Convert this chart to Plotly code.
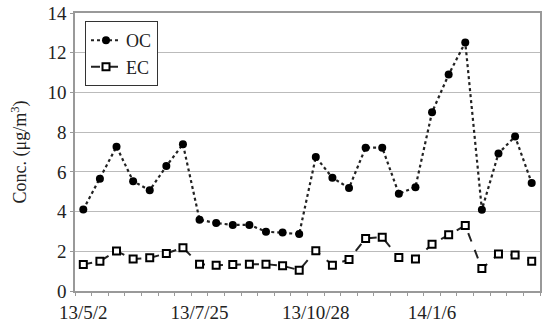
import plotly.graph_objects as go

idx = list(range(28))
oc = [4.1, 5.65, 7.27, 5.53, 5.07, 6.29, 7.39, 3.59, 3.42, 3.33, 3.33, 2.99, 2.94, 2.87,
      6.75, 5.70, 5.19, 7.22, 7.22, 4.90, 5.23, 9.0, 10.9, 12.52, 4.09, 6.93, 7.78, 5.44]
ec = [1.34, 1.50, 2.01, 1.61, 1.67, 1.89, 2.18, 1.35, 1.30, 1.34, 1.35, 1.35, 1.27, 1.05,
      2.03, 1.30, 1.59, 2.65, 2.71, 1.69, 1.61, 2.35, 2.83, 3.30, 1.13, 1.86, 1.81, 1.50]
tick_pos = [0, 7, 14, 21]
tick_labels = ["13/5/2", "13/7/25", "13/10/28", "14/1/6"]
boundaries = [i - 0.5 for i in range(len(idx) + 1)]

FONT = "Liberation Serif"
fig = go.Figure()
fig.add_trace(go.Scatter(
    x=idx, y=oc, name="OC", mode="lines+markers",
    line=dict(color="#222", width=2.2, dash="dot"),
    marker=dict(symbol="circle", size=8, color="black"),
))
fig.add_trace(go.Scatter(
    x=idx, y=ec, name="EC", mode="lines+markers",
    line=dict(color="#222", width=2, dash="dash"),
    marker=dict(symbol="square", size=7, color="white", line=dict(color="black", width=2)),
))
fig.add_trace(go.Scatter(x=[], y=[], xaxis="x2", showlegend=False, hoverinfo="skip"))

fig.update_layout(
    width=542, height=323,
    margin=dict(l=75, r=2, t=13, b=32),
    paper_bgcolor="white", plot_bgcolor="white",
    font=dict(family=FONT, size=19, color="#222"),
    showlegend=True,
    legend=dict(x=0.0215, y=0.971, xanchor="left", yanchor="top",
                bgcolor="white", bordercolor="#333", borderwidth=1,
                font=dict(family=FONT, size=18, color="#222"), itemwidth=30),
    xaxis=dict(
        range=[-0.5, 27.5], tickmode="array", tickvals=tick_pos, ticktext=tick_labels,
        ticks="outside", ticklen=3, tickcolor="rgba(0,0,0,0)", automargin=False,
        showgrid=False, zeroline=False,
        showline=True, linecolor="#999", linewidth=1.5, mirror=True,
        tickfont=dict(family=FONT, size=19, color="#222"),
    ),
    xaxis2=dict(
        overlaying="x", anchor="y", side="bottom", range=[-0.5, 27.5],
        tickmode="array", tickvals=boundaries, ticks="outside", ticklen=4,
        tickcolor="#999", showticklabels=False, showgrid=False, zeroline=False,
        showline=False, automargin=False,
    ),
    yaxis=dict(
        range=[0, 14], dtick=2, tick0=0, showgrid=True, gridcolor="#bbb", gridwidth=1,
        zeroline=False, showline=True, linecolor="#999", linewidth=1.5, mirror=True,
        ticks="outside", ticklen=3, tickcolor="#999", automargin=False,
        title=dict(text="Conc. (μg/m<sup>3</sup>)", font=dict(family=FONT, size=18, color="#222"), standoff=16),
        tickfont=dict(family=FONT, size=19, color="#222"),
    ),
)

fig.write_html("out.html")
